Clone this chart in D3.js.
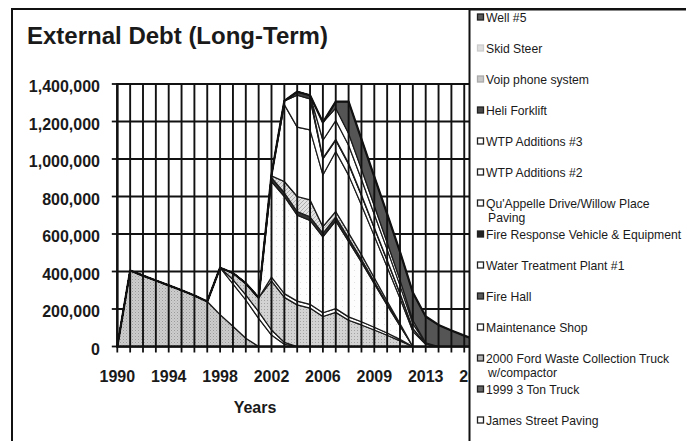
<!DOCTYPE html>
<html><head><meta charset="utf-8">
<script src="https://cdn.jsdelivr.net/npm/d3@7"></script>
<style>
body{margin:0;background:#fff}
svg{display:block}
text{font-family:"Liberation Sans",Arial,Helvetica,sans-serif;fill:#1a1a1a}
</style>
</head><body>
<svg id="chart" width="686" height="441"></svg>
<script>
// ---------------- data ----------------
const years = ["1990","1991","1992","1993","1994","1995","1996","1997","1998","1999","2000","2001","2002","2003","2004","2005","2006","2007","2008","2008","2009","2010","2011","2012","2013","2014","2015","2016","2017","2018","2019"];

// series, bottom of the stack first (legend lists them top-first)
const seriesNames = ["James Street Paving","1999 3 Ton Truck","2000 Ford Waste Collection Truck w/compactor","Maintenance Shop","Fire Hall","Water Treatment Plant #1","Fire Response Vehicle & Equipment","Qu'Appelle Drive/Willow Place Paving","WTP Additions #2","WTP Additions #3","Heli Forklift","Voip phone system","Skid Steer","Well #5"];

const jamesStreetPaving = [0,405000,378000,352000,326000,300000,272000,240000,170000,108000,44000,0,0,0,0,0,0,0,0,0,0,0,0,0,0,0,0,0,0,0,0];
const threeTonTruck1999 = [0,0,0,0,0,0,0,0,250000,226000,204000,150000,61000,12000,0,0,0,0,0,0,0,0,0,0,0,0,0,0,0,0,0];
const fordWasteTruck2000 = [0,0,0,0,0,0,0,0,0,23000,27000,36000,27000,10000,0,0,0,0,0,0,0,0,0,0,0,0,0,0,0,0,0];
const maintenanceShop = [0,0,0,0,0,0,0,0,0,35000,62000,74000,262000,240000,222000,205000,160000,182000,140000,115000,88000,60000,30000,0,0,0,0,0,0,0,0];
const fireHall = [0,0,0,0,0,0,0,0,0,0,0,0,20000,20000,20000,20000,20000,20000,18000,17000,15000,12000,8000,0,0,0,0,0,0,0,0];
const waterTreatmentPlant1 = [0,0,0,0,0,0,0,0,0,0,0,0,510000,518000,458000,447000,405000,468000,402000,318000,232000,148000,72000,0,0,0,0,0,0,0,0];
const fireResponseVehicle = [0,0,0,0,0,0,0,0,0,0,0,0,20000,20000,20000,20000,19000,20000,18000,15000,12000,8000,4000,0,0,0,0,0,0,0,0];
const quappellePaving = [0,0,0,0,0,0,0,0,0,0,0,0,10000,60000,80000,90000,35000,30000,28000,25000,20000,15000,8000,0,0,0,0,0,0,0,0];
const wtpAdditions2 = [0,0,0,0,0,0,0,0,0,0,0,0,3000,410000,370000,373000,276000,320000,308000,265000,223000,181000,135000,81000,12000,0,0,0,0,0,0];
const wtpAdditions3 = [0,0,0,0,0,0,0,0,0,0,0,0,2000,20000,170000,165000,85000,60000,58000,50000,42000,34000,25000,15000,2000,0,0,0,0,0,0];
const heliForklift = [0,0,0,0,0,0,0,0,0,0,0,0,0,0,19000,20000,5000,5000,5000,4000,3000,3000,2000,1000,0,0,0,0,0,0,0];
const voipPhoneSystem = [0,0,0,0,0,0,0,0,0,0,0,0,0,0,0,0,95000,100000,96000,83000,70000,57000,42000,25000,4000,0,0,0,0,0,0];
const skidSteer = [0,0,0,0,0,0,0,0,0,0,0,0,0,0,0,0,95000,66000,63000,54000,46000,37000,29000,18000,2000,0,0,0,0,0,0];
const well5 = [0,0,0,0,0,0,0,0,0,0,0,0,0,0,0,0,0,35000,170000,160000,155000,152000,150000,148000,140000,115000,85000,58000,32000,12000,0];

const seriesValues = [jamesStreetPaving,threeTonTruck1999,fordWasteTruck2000,maintenanceShop,fireHall,waterTreatmentPlant1,fireResponseVehicle,quappellePaving,wtpAdditions2,wtpAdditions3,heliForklift,voipPhoneSystem,skidSteer,well5];

const yTickValues = [0,200000,400000,600000,800000,1000000,1200000,1400000];
const yTickLabels = ["0","200,000","400,000","600,000","800,000","1,000,000","1,200,000","1,400,000"];
const xLabelStep = 4;
const titleText = "External Debt (Long-Term)";
const xAxisTitle = "Years";
// legend label wrapping as in the reference
const legendLines = {
  "Qu'Appelle Drive/Willow Place Paving": ["Qu'Appelle Drive/Willow Place","Paving"],
  "2000 Ford Waste Collection Truck w/compactor": ["2000 Ford Waste Collection Truck","w/compactor"]
};

// ---------------- styles ----------------
const chartFills = ["url(#stipple)","#ffffff","#ffffff","url(#stipple2)","#ffffff","url(#lightdots)","#333333","url(#hatch)","#ffffff","#ffffff","#3a3a3a","#ffffff","#ffffff","#555555"];
const legendFills = ["#ffffff","#666666","#b5b5b5","#ffffff","#5a5a5a","#ffffff","#222222","#ffffff","#ffffff","#ffffff","#4a4a4a","#c8c8c8","#dedede","#5a5a5a"];
const legendStrokes = ["#222","#222","#222","#222","#222","#222","#222","#222","#222","#222","#222","#aaa","#ccc","#222"];
const legendLeft = 469.5;

// ---------------- build ----------------
const svg = d3.select("#chart");
const defs = svg.append("defs");
const p1 = defs.append("pattern").attr("id","stipple").attr("width",3).attr("height",3).attr("patternUnits","userSpaceOnUse");
p1.append("rect").attr("width",3).attr("height",3).attr("fill","#cdcdcd");
p1.append("rect").attr("width",1).attr("height",1).attr("fill","#9a9a9a");
p1.append("rect").attr("x",1.5).attr("y",1.5).attr("width",1).attr("height",1).attr("fill","#b0b0b0");
const p2 = defs.append("pattern").attr("id","stipple2").attr("width",3).attr("height",3).attr("patternUnits","userSpaceOnUse");
p2.append("rect").attr("width",3).attr("height",3).attr("fill","#d3d3d3");
p2.append("rect").attr("width",1).attr("height",1).attr("fill","#a2a2a2");
const p3 = defs.append("pattern").attr("id","lightdots").attr("width",6).attr("height",6).attr("patternUnits","userSpaceOnUse");
p3.append("rect").attr("width",6).attr("height",6).attr("fill","#fdfdfd");
p3.append("rect").attr("width",1).attr("height",1).attr("fill","#e2e2e2");
const p4 = defs.append("pattern").attr("id","hatch").attr("width",4).attr("height",4).attr("patternUnits","userSpaceOnUse");
p4.append("rect").attr("width",4).attr("height",4).attr("fill","#e2e2e2");
p4.append("path").attr("d","M0,4 L4,0").attr("stroke","#a0a0a0").attr("stroke-width",0.8);

const n = years.length;
const x = d3.scaleLinear().domain([0, n-1]).range([117.3, 117.3 + 12.85*(n-1)]);
const y = d3.scaleLinear().domain([0, 1400000]).range([346.5, 84]);

const keys = seriesNames.map((_,k)=>"s"+k);
const table = years.map((yr,i)=>{
  const row = {i:i, year:yr};
  seriesValues.forEach((arr,k)=>{ row["s"+k] = arr[i]; });
  return row;
});
const stacked = d3.stack().keys(keys)(table);

// outer chart border
svg.append("rect").attr("x",12).attr("y",9).attr("width",720).attr("height",500)
  .attr("fill","#fff").attr("stroke","#111").attr("stroke-width",2);

// title
svg.append("text").attr("x",27).attr("y",44).attr("font-size",24).attr("font-weight","bold").text(titleText);

const plot = svg.append("g");
// horizontal gridlines (behind areas)
plot.selectAll("line.hg").data(yTickValues).enter().append("line")
  .attr("x1",x(0)).attr("x2",x(n-1)).attr("y1",d=>y(d)).attr("y2",d=>y(d))
  .attr("stroke","#111").attr("stroke-width",1.9);

// areas
const area = d3.area().x(d=>x(d.data.i)).y0(d=>y(d[0])).y1(d=>y(d[1]));
plot.selectAll("path.layer").data(stacked).enter().append("path")
  .attr("d",area)
  .attr("fill",(d,k)=>chartFills[k])
  .attr("stroke","#1a1a1a").attr("stroke-width",1.2).attr("stroke-linejoin","round");

// vertical lines at each category (drop lines / gridlines)
plot.selectAll("line.vg").data(d3.range(n)).enter().append("line")
  .attr("x1",d=>x(d)).attr("x2",d=>x(d)).attr("y1",y(1400000)).attr("y2",y(0))
  .attr("stroke","#111").attr("stroke-width",1.9);

// total outline
const topLine = d3.line().x(d=>x(d.data.i)).y(d=>y(d[1]));
plot.append("path").attr("d",topLine(stacked[stacked.length-1]))
  .attr("fill","none").attr("stroke","#111").attr("stroke-width",2.2).attr("stroke-linejoin","round");

// axes
plot.append("line").attr("x1",x(0)).attr("x2",x(0)).attr("y1",y(1400000)-1).attr("y2",y(0)+1)
  .attr("stroke","#111").attr("stroke-width",2.4);
plot.append("line").attr("x1",x(0)-1).attr("x2",x(n-1)).attr("y1",y(0)).attr("y2",y(0))
  .attr("stroke","#111").attr("stroke-width",2.6);
plot.selectAll("line.xt").data(d3.range(n)).enter().append("line")
  .attr("x1",d=>x(d)).attr("x2",d=>x(d)).attr("y1",y(0)).attr("y2",y(0)+6)
  .attr("stroke","#111").attr("stroke-width",1.8);
plot.selectAll("line.yt").data(yTickValues).enter().append("line")
  .attr("x1",x(0)-5.5).attr("x2",x(0)).attr("y1",d=>y(d)).attr("y2",d=>y(d))
  .attr("stroke","#111").attr("stroke-width",1.8);

// tick labels
svg.selectAll("text.yl").data(yTickValues).enter().append("text")
  .attr("x",100).attr("y",d=>y(d)+8).attr("text-anchor","end")
  .attr("font-size",16).attr("font-weight","bold").text((d,i)=>yTickLabels[i]);
// x labels live in a viewport that ends at the legend's left edge (the legend hides the rest)
const xLabelPort = svg.append("svg").attr("x",0).attr("y",355).attr("width",legendLeft).attr("height",40)
  .attr("overflow","hidden");
xLabelPort.selectAll("text.xl").data(d3.range(0,n,xLabelStep)).enter().append("text")
  .attr("x",d=>x(d)).attr("y",381.5-355).attr("text-anchor","middle")
  .attr("font-size",16).attr("font-weight","bold").text(d=>years[d]);
svg.append("text").attr("x",255).attr("y",413).attr("text-anchor","middle")
  .attr("font-size",16).attr("font-weight","bold").text(xAxisTitle);

// legend
svg.append("rect").attr("x",legendLeft).attr("y",9.5).attr("width",260).attr("height",480)
  .attr("fill","#fff").attr("stroke","#111").attr("stroke-width",2);
const legendOrder = d3.range(seriesNames.length).reverse();
const lg = svg.append("g");
legendOrder.forEach((k,row)=>{
  const cy = 17.5 + 31*row;
  lg.append("rect").attr("x",477.5).attr("y",cy-3.5).attr("width",6).attr("height",6)
    .attr("fill",legendFills[k]).attr("stroke",legendStrokes[k]).attr("stroke-width",1.3);
  const name = seriesNames[k];
  const lines = legendLines[name] || [name];
  const t = lg.append("text").attr("x",486).attr("y",cy+4.3).attr("font-size",12.2);
  lines.forEach((s,j)=>{
    t.append("tspan").attr("x", j===0?486:488).attr("dy", j===0?0:14.2).text(s);
  });
});
</script>
</body></html>
